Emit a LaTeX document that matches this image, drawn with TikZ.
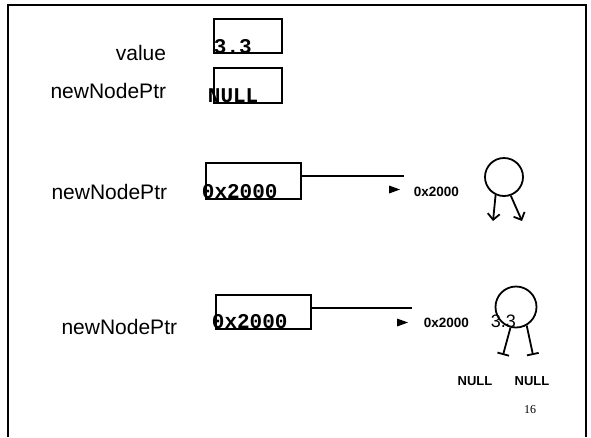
\documentclass[tikz,border=0pt]{standalone}
\usepackage{fontspec}
\setmainfont{Liberation Sans}
\setmonofont{Liberation Mono}
\newfontfamily\numfont{Liberation Serif}
\usepackage{tikz}
\usetikzlibrary{arrows.meta}

\tikzset{
  lbl/.style={anchor=base east,inner sep=0pt,font=\fontsize{21}{24}\selectfont},
  cell/.style={draw,line width=1.8pt,anchor=north west,inner sep=0pt},
  val/.style={anchor=west,inner sep=0pt,font=\fontsize{21}{24}\selectfont\ttfamily\bfseries},
  addr/.style={anchor=west,inner sep=0pt,font=\fontsize{13.5}{16}\selectfont\bfseries},
  nul/.style={inner sep=0pt,font=\fontsize{13}{16}\selectfont\bfseries},
  tnode/.style={circle,draw,line width=1.8pt,minimum size=38pt,inner sep=0pt}
}

\begin{document}
\begin{tikzpicture}[x=1pt,y=-1pt,line width=1.8pt]
\useasboundingbox (0,0) rectangle (591,437);
\draw[line width=2.5pt] (8,437) -- (8,5) -- (586,5) -- (586,437);
% value and newNodePtr
\node[lbl] (l1) at (167,60){value};
\node[lbl] (l2) at (167,98){newNodePtr};
\node[cell,minimum width=68pt,minimum height=34pt] (b1) at (213,18){};
\node[cell,minimum width=68pt,minimum height=35pt] (b2) at (213,67){};
\node[val] (v1) at (213,47){3.3};
\node[val] (v2) at (207,96){NULL};
% newNodePtr = new node
\node[lbl] (l3) at (168,199){newNodePtr};
\node[cell,minimum width=95pt,minimum height=36pt] (b3) at (205,162){};
\node[val] (v3) at (201,192){0x2000};
\coordinate (e3) at (404,176);
\draw (b3.east |- e3) -- (e3);
\fill (389,185.5) -- (400,189.5) -- (389,193.5) -- cycle;
\node[addr] (a3) at (413,192){0x2000};
\node[tnode] (n3) at (504,177){};
\coordinate (p3) at (493,221);
\coordinate (q3) at (522,221);
\foreach \from/\to in {n3.-115/p3,n3.-70/q3}
  \draw[-{Straight Barb[length=6pt,width=12pt]}] (\from)--(\to);
% node filled in
\node[lbl] (l4) at (178,334){newNodePtr};
\node[cell,minimum width=95pt,minimum height=34pt] (b4) at (215,294){};
\node[val] (v4) at (211,322){0x2000};
\coordinate (e4) at (412,308);
\draw (b4.east |- e4) -- (e4);
\fill (397,318.5) -- (408,322.5) -- (397,326.5) -- cycle;
\node[addr] (a4) at (423,323){0x2000};
\node[tnode,minimum size=41pt] (n4) at (516,307){};
\node[anchor=west,inner sep=0pt,font=\fontsize{18}{20}\selectfont] (k4) at (490,321){3.3};
\coordinate (p4) at (503,355);
\coordinate (q4) at (533,355);
\foreach \from/\to in {n4.-105/p4,n4.-60/q4}
  \draw[-{Bar[width=12pt]}] (\from)--(\to);
\node[nul] (u1) at (475,381){NULL};
\node[nul] (u2) at (532,381){NULL};
\node[inner sep=0pt,font=\fontsize{12}{14}\selectfont\numfont] (pg) at (530,410){16};
\end{tikzpicture}
\end{document}
